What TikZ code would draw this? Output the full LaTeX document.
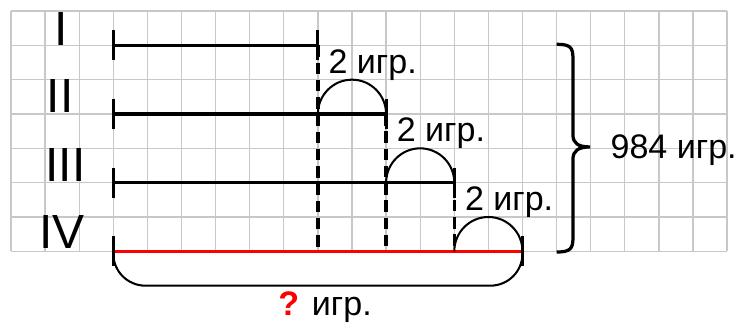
\documentclass[tikz,border=0pt]{standalone}
\usepackage{fontspec}
\setmainfont{Liberation Sans}
\begin{document}
\begin{tikzpicture}[x=0.5cm,y=0.5034cm,
  gridline/.style={draw={rgb,255:red,200;green,200;blue,200}, line width=0.55pt},
  seg/.style={line width=1.3pt},
  tickmark/.style={line width=1.3pt},
  dashline/.style={line width=1.5pt, dash pattern=on 4.8pt off 2.4pt},
  arcline/.style={line width=0.85pt},
  bracestyle/.style={line width=1.35pt},
  lbl/.style={inner sep=0, anchor=base west, font=\fontsize{14.2}{16}\selectfont},
  roman/.style={inner sep=0, anchor=base, font=\fontsize{20}{24}\selectfont}
]
\useasboundingbox (-0.3226,0.3204) rectangle (21.408,-9.0616);
% grid
\foreach \i in {0,...,21} \draw[gridline] (\i,0) -- (\i,-7);
\foreach \j in {0,...,7} \draw[gridline] (0,-\j) -- (21,-\j);
% coordinates
\coordinate (L1) at (3,-1);  \coordinate (R1) at (9,-1);
\coordinate (L2) at (3,-3);  \coordinate (R2) at (11,-3);
\coordinate (L3) at (3,-5);  \coordinate (R3) at (13,-5);
\coordinate (L4) at (3,-7);  \coordinate (R4) at (15,-7);
\coordinate (D1) at (9,-7);  \coordinate (D2) at (11,-7); \coordinate (D3) at (13,-7);
\coordinate (A2) at (9,-3);  \coordinate (A3) at (11,-5); \coordinate (A4) at (13,-7);
\coordinate (B1) at (16,-0.97); \coordinate (B2) at (16,-7.02); \coordinate (Btip) at (16.98,-3.96);
\coordinate (C1) at (3,-8);  \coordinate (C2) at (15,-8);
% roman numerals
\node[roman] (n1) at (1.466,-1) {I};
\node[roman] (n2) at (1.437,-2.97) {II};
\node[roman] (n3) at (1.598,-4.97) {III};
\node[roman] (n4) at (1.496,-6.93) {IV};
% dashed verticals
\draw[dashline] (R1) -- (D1);
\draw[dashline] (R2) -- (D2);
\draw[dashline] (R3) -- (D3);
% bottom brace
\draw[arcline, rounded corners=0.47cm] (L4) -- (C1) -- (C2) -- (R4);
% segments
\draw[seg] (L1) -- (R1);
\draw[seg] (L2) -- (R2);
\draw[seg] (L3) -- (R3);
\draw[seg, red] (L4) -- (R4);
% ticks
\foreach \p in {L1,L2,L3,L4,R1,R2,R3,R4}
  \draw[tickmark] ([yshift=0.22cm]\p) -- ([yshift=-0.22cm]\p);
% arcs
\draw[arcline] (A2) arc[start angle=180, end angle=0, x radius=1, y radius=1];
\draw[arcline] (A3) arc[start angle=180, end angle=0, x radius=1, y radius=1];
\draw[arcline] (A4) arc[start angle=180, end angle=0, x radius=1, y radius=1];
% right brace
\draw[bracestyle] (B1) .. controls (16.39,-0.97) and (16.48,-1.05) .. (16.48,-1.37)
  -- (16.48,-3.61) .. controls (16.48,-3.85) and (16.63,-3.96) .. (Btip)
  .. controls (16.63,-3.96) and (16.48,-4.08) .. (16.48,-4.31)
  -- (16.48,-6.62) .. controls (16.48,-6.93) and (16.39,-7.02) .. (B2);
% labels
\node[lbl] (t1) at (9.3,-1.81) {2 игр.};
\node[lbl] (t2) at (11.3,-3.81) {2 игр.};
\node[lbl] (t3) at (13.3,-5.81) {2 игр.};
\node[lbl] (t4) at (17.57,-4.31) {984 игр.};
\node[lbl] (q) at (7.83,-8.86) {\textcolor{red}{\textbf{?}} игр.};
\end{tikzpicture}
\end{document}
